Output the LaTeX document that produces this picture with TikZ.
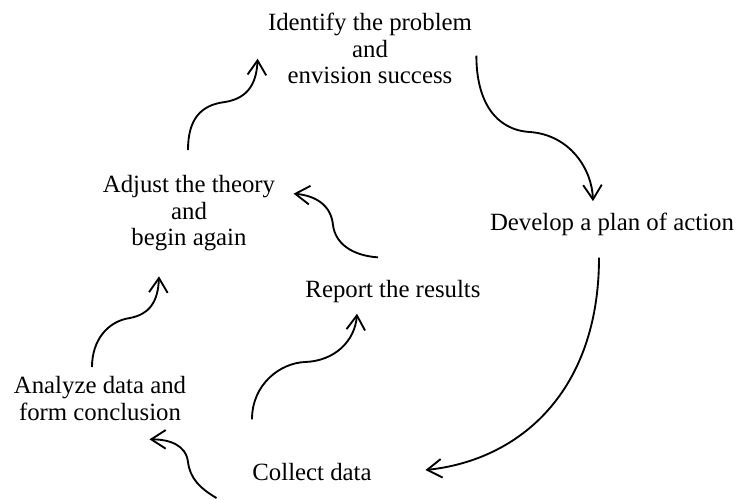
\documentclass[tikz,border=0pt]{standalone}
\usepackage{fontspec}
\setmainfont{Liberation Serif}
\usetikzlibrary{arrows.meta,calc}

\tikzset{
  stage/.style={inner sep=0pt, align=center, font=\fontsize{12}{12.8}\selectfont},
  flow/.style={-{Straight Barb[length=7pt,width=9pt]}, line width=0.9pt}
}

\begin{document}
\begin{tikzpicture}[x=0.017cm, y=-0.017cm]
    \useasboundingbox (0,0) rectangle (739,499);

    \node[stage, anchor=north] (identify) at (370,13) {Identify the problem\\and\\envision success};
    \node[stage, anchor=base] (develop) at (612,230) {Develop a plan of action};
    \node[stage, anchor=base] (collect) at (312,480) {Collect data};
    \node[stage, anchor=north] (analyze) at (100,376) {Analyze data and\\form conclusion};
    \node[stage, anchor=base] (report) at (393,297) {Report the results};
    \node[stage, anchor=north] (adjust) at (189,175) {Adjust the theory\\and\\begin again};

    % clockwise loop
    \draw[flow] ($(identify.east)+(4,7)$) .. controls +(0,45) and +(-35,-2) .. (530,132)
        .. controls +(40,3) and +(-1,-32) .. ($(develop.north)+(-19,-11)$);
    \draw[flow] ($(develop.south)+(-13,22)$) .. controls +(0,133) and +(95,-10) .. ($(collect.east)+(53.5,-1.5)$);
    \draw[flow] ($(collect.west)+(-35.5,26.5)$) .. controls +(-17,-10) and +(2,16) .. (188,462)
        .. controls +(-2,-17) and +(20,0) .. ($(analyze.south east)+(-37,18.6)$);
    \draw[flow] ($(analyze.north)+(-8,-9)$) .. controls +(0,-27) and +(-22,3) .. (130,318)
        .. controls +(20,-4) and +(-1,25) .. ($(adjust.south)+(-30,25)$);
    \draw[flow] ($(adjust.north)+(-1,-25)$) .. controls +(0,-30) and +(-25,3) .. (225,102)
        .. controls +(25,-4) and +(-1,22) .. ($(identify.west)+(-10,10)$);

    % inner branch
    \draw[flow] ($(collect.north)+(-60,-43)$) .. controls +(0,-35) and +(-25,1) .. (305,362)
        .. controls +(30,-1) and +(-2,27) .. ($(report.south)+(-36,11)$);
    \draw[flow] ($(report.north)+(-15,-22)$) .. controls +(-28,-2) and +(2,17) .. (333,225)
        .. controls +(-2,-20) and +(22,2) .. ($(adjust.east)+(18,-19.5)$);
\end{tikzpicture}
\end{document}
